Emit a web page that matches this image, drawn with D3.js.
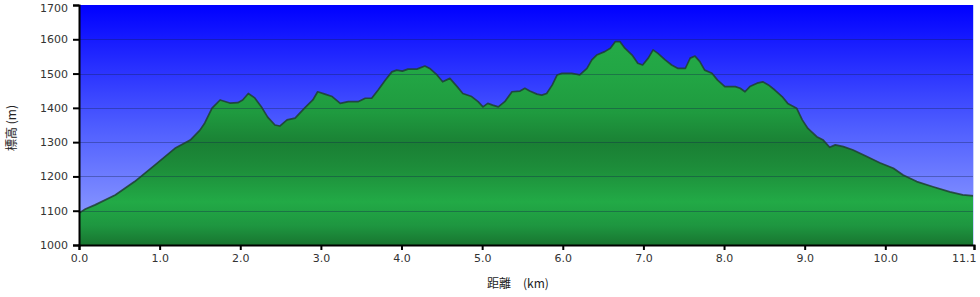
<!DOCTYPE html>
<html>
<head>
<meta charset="utf-8">
<script src="https://cdn.jsdelivr.net/npm/d3@7"></script>
<style>
  html, body { margin: 0; padding: 0; background: #ffffff; }
  svg { display: block; }
  .tick text { font-family: "DejaVu Sans", Verdana, sans-serif; font-size: 11px; fill: #333; }
</style>
</head>
<body>
<svg id="chart" width="980" height="297"></svg>
<script>
// ---- data ----
const distanceKm = [0.00, 0.08, 0.20, 0.45, 0.69, 0.94, 1.19, 1.38, 1.50, 1.56, 1.65, 1.75, 1.87, 1.97, 2.03, 2.10, 2.18, 2.27, 2.34, 2.43, 2.49, 2.58, 2.68, 2.80, 2.90, 2.96, 3.05, 3.14, 3.24, 3.34, 3.46, 3.55, 3.63, 3.71, 3.80, 3.88, 3.94, 4.01, 4.08, 4.19, 4.29, 4.35, 4.44, 4.51, 4.60, 4.69, 4.76, 4.87, 4.95, 5.01, 5.07, 5.13, 5.20, 5.28, 5.37, 5.47, 5.53, 5.59, 5.68, 5.74, 5.80, 5.87, 5.93, 5.99, 6.11, 6.21, 6.30, 6.36, 6.42, 6.52, 6.59, 6.65, 6.71, 6.77, 6.86, 6.93, 6.99, 7.06, 7.12, 7.18, 7.27, 7.35, 7.43, 7.52, 7.54, 7.58, 7.64, 7.70, 7.76, 7.85, 7.92, 8.01, 8.14, 8.20, 8.26, 8.32, 8.41, 8.48, 8.55, 8.63, 8.72, 8.79, 8.90, 8.97, 9.04, 9.15, 9.23, 9.31, 9.38, 9.48, 9.60, 9.77, 9.93, 10.10, 10.22, 10.39, 10.59, 10.80, 10.96, 11.10];
const elevationM = [1093, 1105, 1117, 1146, 1185, 1233, 1282, 1306, 1335, 1356, 1399, 1423, 1414, 1415, 1423, 1442, 1429, 1400, 1373, 1350, 1347, 1365, 1370, 1400, 1423, 1447, 1440, 1433, 1413, 1418, 1418, 1428, 1428, 1452, 1481, 1505, 1510, 1507, 1513, 1513, 1522, 1515, 1496, 1476, 1486, 1462, 1442, 1433, 1418, 1403, 1413, 1408, 1403, 1418, 1447, 1449, 1457, 1449, 1440, 1437, 1442, 1467, 1496, 1501, 1501, 1496, 1515, 1540, 1554, 1564, 1574, 1593, 1593, 1574, 1554, 1530, 1525, 1545, 1569, 1559, 1540, 1525, 1515, 1515, 1525, 1545, 1551, 1535, 1510, 1501, 1481, 1462, 1462, 1457, 1447, 1462, 1472, 1476, 1467, 1452, 1433, 1413, 1399, 1365, 1340, 1316, 1306, 1285, 1292, 1287, 1277, 1258, 1240, 1224, 1204, 1185, 1170, 1155, 1146, 1143];
const xTickValues = [0, 1, 2, 3, 4, 5, 6, 7, 8, 9, 10, 11.1];
const yTickValues = [1000, 1100, 1200, 1300, 1400, 1500, 1600, 1700];
const xDomain = [0, 11.1];
const yDomain = [1000, 1700];
const xTitle = "距離\u3000(km)";
const yTitle = "標高 (m)";

// ---- layout ----
const W = 980, H = 297;
const margin = { top: 5, right: 6, bottom: 52, left: 79 };
const iw = W - margin.left - margin.right;
const ih = H - margin.top - margin.bottom;

const svg = d3.select("#chart");
const defs = svg.append("defs");

const bg = defs.append("linearGradient").attr("id", "bgGrad")
  .attr("x1", 0).attr("y1", 0).attr("x2", 0).attr("y2", 1);
bg.append("stop").attr("offset", "0%").attr("stop-color", "#0000ff");
bg.append("stop").attr("offset", "50%").attr("stop-color", "#4d5cff");
bg.append("stop").attr("offset", "100%").attr("stop-color", "#9aa8ff");

const gg = defs.append("linearGradient").attr("id", "greenGrad")
  .attr("gradientUnits", "userSpaceOnUse")
  .attr("x1", 0).attr("y1", 0).attr("x2", 0).attr("y2", ih);
[["0%", "#27b04b"], ["30%", "#22a544"], ["45%", "#1f9a3f"], ["58%", "#1a8034"], ["68%", "#1d8d3a"], ["82%", "#22aa46"], ["92%", "#1e9640"], ["100%", "#187530"]]
  .forEach(([o, c]) => gg.append("stop").attr("offset", o).attr("stop-color", c));

const g = svg.append("g").attr("transform", `translate(${margin.left},${margin.top})`);

const x = d3.scaleLinear().domain(xDomain).range([0, iw]);
const y = d3.scaleLinear().domain(yDomain).range([ih, 0]);

// background
g.append("rect").attr("x", 0).attr("y", 0).attr("width", iw).attr("height", ih)
  .attr("fill", "url(#bgGrad)");

const data = distanceKm.map((d, i) => ({ d, e: elevationM[i] }));

// area
const area = d3.area().x(p => x(p.d)).y0(ih).y1(p => y(p.e));
g.append("path").datum(data).attr("d", area).attr("fill", "url(#greenGrad)");

// grid lines
g.append("g").selectAll("line").data(yTickValues.slice(1, -1)).join("line")
  .attr("x1", 0).attr("x2", iw)
  .attr("y1", d => Math.round(y(d)) + 0.5).attr("y2", d => Math.round(y(d)) + 0.5)
  .attr("stroke", "#10204a").attr("stroke-opacity", 0.35).attr("stroke-width", 1);

// outline
const line = d3.line().x(p => x(p.d)).y(p => y(p.e));
g.append("path").datum(data).attr("d", line)
  .attr("fill", "none").attr("stroke", "#1e3f30").attr("stroke-width", 1.7)
  .attr("stroke-opacity", 0.85).attr("stroke-linejoin", "round");

// right edge
g.append("line").attr("x1", iw - 0.5).attr("x2", iw - 0.5).attr("y1", 0).attr("y2", ih)
  .attr("stroke", "#c8d2ff").attr("stroke-width", 1);

// axes
const yAxis = d3.axisLeft(y).tickValues(yTickValues).tickFormat(d3.format("d"))
  .tickSize(6).tickPadding(5);
const yg = g.append("g").call(yAxis);
yg.select(".domain").attr("stroke", "#000").attr("stroke-width", 2);
yg.selectAll(".tick line").attr("stroke", "#000").attr("stroke-width", 2);
yg.selectAll(".tick").filter(d => d === 1700).select("text").attr("dy", "0.62em");

const xAxis = d3.axisBottom(x).tickValues(xTickValues).tickFormat(d3.format(".1f"))
  .tickSize(5).tickPadding(4);
const xg = g.append("g").attr("transform", `translate(0,${ih})`).call(xAxis);
xg.select(".domain").attr("stroke", "#000").attr("stroke-width", 2);
xg.selectAll(".tick line").attr("stroke", "#000").attr("stroke-width", 2);
xg.selectAll(".tick").filter(d => d === xDomain[1]).select("text")
  .attr("text-anchor", "end").attr("dx", "2");

// titles
svg.append("text").attr("x", 487).attr("y", 288)
  .attr("font-family", "'Noto Sans CJK JP', sans-serif").attr("font-size", 12)
  .attr("fill", "#222").style("white-space", "pre").text(xTitle);
svg.append("text").attr("transform", "translate(16,128) rotate(-90)")
  .attr("text-anchor", "middle")
  .attr("font-family", "'Noto Sans CJK JP', sans-serif").attr("font-size", 12)
  .attr("fill", "#222").style("white-space", "pre").text(yTitle);
</script>
</body>
</html>
